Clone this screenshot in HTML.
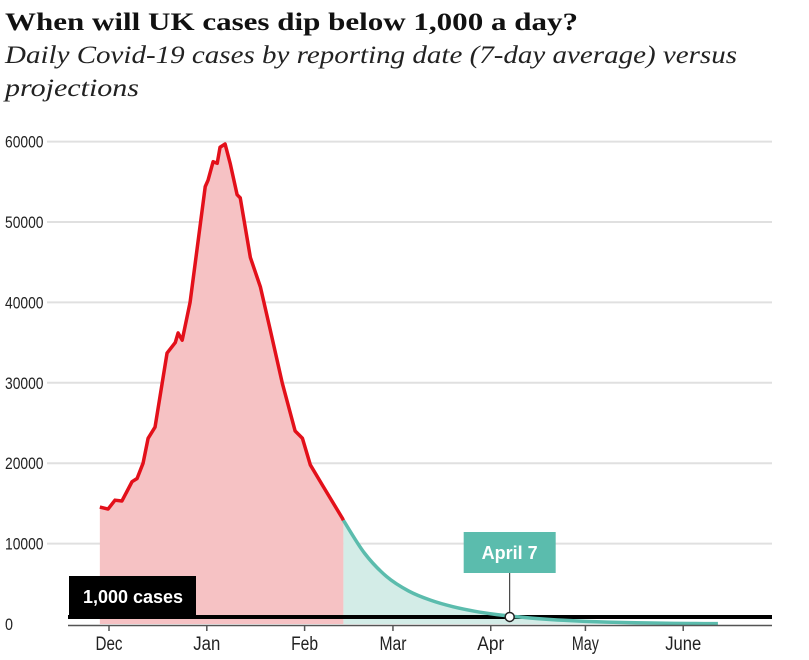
<!DOCTYPE html>
<html><head><meta charset="utf-8"><style>
html,body{margin:0;padding:0;background:#fff;}
svg{display:block;}
</style></head><body>
<svg id="chart" width="809" height="660" xmlns="http://www.w3.org/2000/svg">
<text x="5" y="30" font-family="Liberation Serif, serif" font-weight="bold" font-size="25" fill="#111" textLength="573" lengthAdjust="spacingAndGlyphs">When will UK cases dip below 1,000 a day?</text>
<text x="5" y="63" font-family="Liberation Serif, serif" font-style="italic" font-size="25" fill="#222" textLength="732" lengthAdjust="spacingAndGlyphs">Daily Covid-19 cases by reporting date (7-day average) versus</text>
<text x="5" y="96" font-family="Liberation Serif, serif" font-style="italic" font-size="25" fill="#222" textLength="134" lengthAdjust="spacingAndGlyphs">projections</text>
<g id="grid"></g>
<g id="areas"></g>
<g id="lines"></g>
<g id="axis"></g>
<g id="annot"></g>
</svg>
<script>
// days offset from Dec 1
const actualDays = [-2.9,-0.3,1.9,4.1,7.3,8.9,10.8,12.4,14.6,18.4,21,21.9,23.2,25.7,30.5,31.4,33,34.3,35.2,36.8,38.4,40.6,41.6,44.8,48,51.1,54.9,59,61.3,63.8,67.9,73.9,74.3];
const actualVals = [14550,14300,15400,15300,17700,18100,20000,23100,24500,33700,35000,36200,35300,40000,54400,55200,57500,57300,59300,59700,57300,53400,53000,45600,41900,36600,30000,24000,23100,19800,17100,13200,12900];
const projDays = [74.3,81,88,95,102,109,116,123,127,130,137,144,151,158,165,172,179,186,193];
const projVals = [12900,8800,5900,4100,2950,2150,1580,1170,1000,880,640,460,330,240,170,120,85,60,40];
const yTicks = [0,10000,20000,30000,40000,50000,60000];
const monthNames = ["Dec","Jan","Feb","Mar","Apr","May","June"];
const monthDays = [0,31,62,90,121,151,182];
const thresholdVal = 1000;
const crossDay = 127;

const NS="http://www.w3.org/2000/svg";
const x = d => 109 + d*3.155;
const y = v => 624 - v*0.00804;
function mk(tag, attrs, parent){const e=document.createElementNS(NS,tag);for(const k in attrs)e.setAttribute(k,attrs[k]);parent.appendChild(e);return e;}
const grid=document.getElementById('grid'),areas=document.getElementById('areas'),lines=document.getElementById('lines'),axis=document.getElementById('axis'),annot=document.getElementById('annot');

yTicks.forEach(t=>{
  if(t>0){const g=mk('line',{x1:47,x2:772,y1:y(t),y2:y(t),stroke:'#e0e0e0','stroke-width':2},grid);
  
  }
  const tx=mk('text',{x:5,y:y(t)+6,'font-family':'Liberation Sans, sans-serif','font-size':17,fill:'#222',textLength:t?String(t).length*7.7:8,lengthAdjust:'spacingAndGlyphs'},axis);
  tx.textContent=t;
  
  
});

function smooth(pts){let d=`M${pts[0][0]},${pts[0][1]}`;
  for(let i=0;i<pts.length-1;i++){const p0=pts[Math.max(0,i-1)],p1=pts[i],p2=pts[i+1],p3=pts[Math.min(pts.length-1,i+2)];
    const c1=[p1[0]+(p2[0]-p0[0])/6,p1[1]+(p2[1]-p0[1])/6],c2=[p2[0]-(p3[0]-p1[0])/6,p2[1]-(p3[1]-p1[1])/6];
    d+=` C${c1[0]},${c1[1]} ${c2[0]},${c2[1]} ${p2[0]},${p2[1]}`;}return d;}
const aPts=actualDays.map((d,i)=>[x(d),y(actualVals[i])]);
const pPts=projDays.map((d,i)=>[x(d),y(projVals[i])]);
const aLine='M'+aPts.map(p=>p.join(',')).join(' L');
const pLine=smooth(pPts);
let e=mk('path',{d:aLine+` L${x(actualDays[actualDays.length-1])},${y(0)} L${x(actualDays[0])},${y(0)} Z`,fill:'#f6c2c4'},areas);


e=mk('path',{d:pLine+` L${x(projDays[projDays.length-1])},${y(0)} L${x(projDays[0])},${y(0)} Z`,fill:'#d3ece7'},areas);


e=mk('line',{x1:68,x2:772,y1:y(thresholdVal)+1,y2:y(thresholdVal)+1,stroke:'#000','stroke-width':4},lines);


e=mk('path',{d:pLine,fill:'none',stroke:'#5bbcad','stroke-width':3.5},lines);


e=mk('path',{d:aLine,fill:'none',stroke:'#e3101a','stroke-width':3.5,'stroke-linejoin':'round'},lines);



e=mk('line',{x1:68,x2:772,y1:625.5,y2:625.5,stroke:'#555','stroke-width':1.5},axis);


monthNames.forEach((m,i)=>{
  const xx=x(monthDays[i]);
  const tk=mk('line',{x1:xx,x2:xx,y1:626,y2:631,stroke:'#555','stroke-width':1.5},axis);
  
  
  const t=mk('text',{x:xx,y:650,'text-anchor':'middle','font-family':'Liberation Sans, sans-serif','font-size':19,fill:'#222',textLength:m.length*9,lengthAdjust:'spacingAndGlyphs'},axis);
  t.textContent=m;
  
  
});

// annotations
e=mk('rect',{x:69,y:576,width:127,height:40,fill:'#000'},annot);


e=mk('text',{x:83,y:603,'font-family':'Liberation Sans, sans-serif','font-weight':'bold','font-size':18,fill:'#fff',textLength:100,lengthAdjust:'spacingAndGlyphs'},annot);
e.textContent='1,000 cases';


const cx=x(crossDay),cy=y(thresholdVal)+1;
e=mk('line',{x1:cx,x2:cx,y1:573,y2:cy,stroke:'#222','stroke-width':1},annot);


e=mk('rect',{x:cx-46,y:532,width:92,height:41,fill:'#5bbcad'},annot);


e=mk('text',{x:cx,y:559,'text-anchor':'middle','font-family':'Liberation Sans, sans-serif','font-weight':'bold','font-size':18,fill:'#fff',textLength:56,lengthAdjust:'spacingAndGlyphs'},annot);
e.textContent='April 7';


e=mk('circle',{cx:cx,cy:cy,r:4.5,fill:'#fff',stroke:'#222','stroke-width':1.5},annot);


</script>
</body></html>
